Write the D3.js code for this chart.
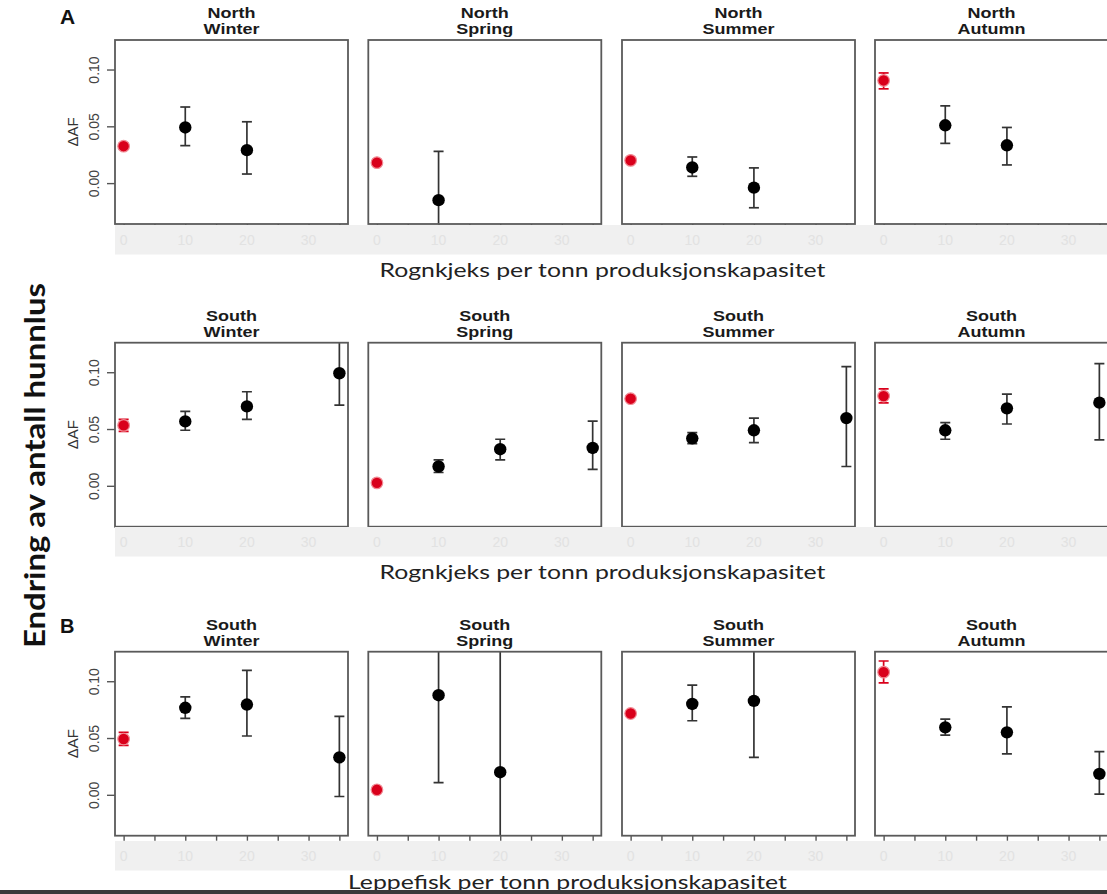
<!DOCTYPE html>
<html>
<head>
<meta charset="utf-8">
<script src="https://cdn.jsdelivr.net/npm/d3@7"></script>
<style>
  html, body { margin: 0; padding: 0; background: #fff; }
  svg { display: block; }
</style>
</head>
<body>
<svg id="chart" width="1107" height="894"></svg>
<script>
// Stocking density (fish per tonne capacity) at which each estimate was made
const doses = [0, 10, 20, 35];
const seasons = ["Winter", "Spring", "Summer", "Autumn"];
const xTicks = [0, 10, 20, 30];
const xMinorTicks = [0, 5, 10, 15, 20, 25, 30, 35];
const yTicks = [0.00, 0.05, 0.10];

// Row 1 – North, lumpfish (Rognkjeks). One array per season, one value per dose.
const northRognMean = [
  [0.0325, 0.049, 0.029, null],
  [0.018, -0.015, null, null],
  [0.020, 0.0138, -0.004, null],
  [0.0904, 0.0509, 0.0333, null]
];
const northRognLow = [
  [0.030, 0.033, 0.008, null],
  [0.016, -0.060, null, null],
  [0.018, 0.006, -0.0217, null],
  [0.083, 0.035, 0.016, null]
];
const northRognHigh = [
  [0.035, 0.067, 0.054, null],
  [0.020, 0.028, null, null],
  [0.022, 0.023, 0.0134, null],
  [0.097, 0.068, 0.049, null]
];

// Row 2 – South, lumpfish (Rognkjeks)
const southRognMean = [
  [0.0532, 0.0567, 0.0699, 0.0991],
  [0.0026, 0.017, 0.0322, 0.0333],
  [0.0767, 0.0418, 0.0489, 0.0596],
  [0.079, 0.0489, 0.0682, 0.0732]
];
const southRognLow = [
  [0.048, 0.0489, 0.0585, 0.071],
  [0.0005, 0.0117, 0.0228, 0.0144],
  [0.0747, 0.0372, 0.038, 0.017],
  [0.073, 0.041, 0.0544, 0.0404]
];
const southRognHigh = [
  [0.0585, 0.0655, 0.0828, 0.128],
  [0.0047, 0.0228, 0.041, 0.057],
  [0.0787, 0.0468, 0.0596, 0.105],
  [0.0854, 0.0556, 0.0807, 0.1076]
];

// Row 3 – South, wrasse (Leppefisk)
const southLeppMean = [
  [0.0491, 0.0766, 0.0795, 0.033],
  [0.0044, 0.0877, 0.0199, null],
  [0.0716, 0.080, 0.0827, null],
  [0.108, 0.0594, 0.055, 0.0184]
];
const southLeppLow = [
  [0.0436, 0.0673, 0.0518, -0.0015],
  [0.0024, 0.0108, -0.13, null],
  [0.0696, 0.0652, 0.033, null],
  [0.0985, 0.0526, 0.036, 0.0006]
];
const southLeppHigh = [
  [0.055, 0.0863, 0.1096, 0.069],
  [0.0064, 0.165, 0.17, null],
  [0.0736, 0.0965, 0.132, null],
  [0.1178, 0.0667, 0.0775, 0.038]
];

const rows = [
  { region: "North", tag: "A", xTitle: "Rognkjeks per tonn produksjonskapasitet", mean: northRognMean, low: northRognLow, high: northRognHigh },
  { region: "South", tag: null, xTitle: "Rognkjeks per tonn produksjonskapasitet", mean: southRognMean, low: southRognLow, high: southRognHigh },
  { region: "South", tag: "B", xTitle: "Leppefisk per tonn produksjonskapasitet", mean: southLeppMean, low: southLeppLow, high: southLeppHigh }
];

// ---- layout ----
const panelW = 233, panelH = 184;
const panelX = [115, 368.3, 622, 875];
const rowTop = [40, 342.7, 651.7];
const bandTop = [225, 527, 841];
const bandH = 29.5;
const titleBase = [277, 579, 889];

const svg = d3.select("#chart");
const x = d3.scaleLinear().domain([-1.4, 36.4]).range([0, panelW]);
const y = d3.scaleLinear().domain([-0.036, 0.126]).range([panelH, 0]);

const RED = "#d9001b";
const BAR = "#333";
const sansBold = "'Liberation Sans', Arial, sans-serif";

rows.forEach((row, ri) => {
  const top = rowTop[ri];

  seasons.forEach((season, si) => {
    const g = svg.append("g").attr("transform", `translate(${panelX[si]},${top})`);
    const clipId = `clip-${ri}-${si}`;
    g.append("clipPath").attr("id", clipId)
      .append("rect").attr("x", 0).attr("y", 0).attr("width", panelW).attr("height", panelH);

    // facet title (two lines)
    const tg = g.append("g").attr("transform", `translate(${panelW / 2},0) scale(1.2,1)`);
    tg.append("text").attr("x", 0).attr("y", -22).attr("text-anchor", "middle")
      .attr("font-family", sansBold).attr("font-weight", "bold").attr("font-size", 15)
      .attr("fill", "#1a1a1a").text(row.region);
    tg.append("text").attr("x", 0).attr("y", -6).attr("text-anchor", "middle")
      .attr("font-family", sansBold).attr("font-weight", "bold").attr("font-size", 15)
      .attr("fill", "#1a1a1a").text(season);

    // x ticks every 5 units below the frame
    const xAxis = d3.axisBottom(x).tickValues(xMinorTicks).tickSize(5).tickFormat("");
    const xa = g.append("g").attr("transform", `translate(0,${panelH})`).call(xAxis);
    xa.select(".domain").remove();
    xa.selectAll("line").attr("stroke", "#555").attr("stroke-width", 1.4);

    // y axis on the first panel of the row, labels parallel to the axis
    if (si === 0) {
      const yAxis = d3.axisLeft(y).tickValues(yTicks).tickSize(8).tickFormat(d3.format(".2f"));
      const ya = g.append("g").call(yAxis);
      ya.select(".domain").remove();
      ya.selectAll("line").attr("stroke", "#555").attr("stroke-width", 1.4);
      ya.selectAll("text")
        .attr("font-family", sansBold).attr("font-size", 14).attr("fill", "#444")
        .attr("text-anchor", "middle").attr("dy", 0)
        .attr("transform", "rotate(-90)")
        .attr("x", 0).attr("y", -16);
      g.append("text")
        .attr("transform", `translate(-37,${panelH / 2}) rotate(-90)`)
        .attr("text-anchor", "middle").attr("font-family", sansBold).attr("font-size", 15)
        .attr("fill", "#333").text("ΔAF");
    }

    // error bars and points
    const pts = doses.map((d, k) => ({
      dose: d, m: row.mean[si][k], lo: row.low[si][k], hi: row.high[si][k], ref: k === 0
    })).filter(p => p.m !== null);

    const eb = g.append("g").attr("clip-path", `url(#${clipId})`);
    pts.forEach(p => {
      const cx = x(p.dose);
      const col = p.ref ? RED : BAR;
      eb.append("line").attr("x1", cx).attr("x2", cx).attr("y1", y(p.lo)).attr("y2", y(p.hi))
        .attr("stroke", col).attr("stroke-width", 1.7);
      [p.lo, p.hi].forEach(v => {
        eb.append("line").attr("x1", cx - 5).attr("x2", cx + 5).attr("y1", y(v)).attr("y2", y(v))
          .attr("stroke", col).attr("stroke-width", 1.7);
      });
    });
    pts.forEach(p => {
      g.append("circle").attr("cx", x(p.dose)).attr("cy", y(p.m))
        .attr("r", p.ref ? 5.8 : 6.2)
        .attr("fill", p.ref ? RED : "#000")
        .attr("stroke", p.ref ? "#f08a94" : "none").attr("stroke-width", p.ref ? 1.2 : 0);
    });

    // panel frame
    g.append("rect").attr("x", 0).attr("y", 0).attr("width", panelW).attr("height", panelH)
      .attr("fill", "none").attr("stroke", "#5a5a5a").attr("stroke-width", 1.8);
  });

  // pale band carrying the x tick labels
  svg.append("rect").attr("x", 115).attr("y", bandTop[ri]).attr("width", 1107 - 115).attr("height", bandH)
    .attr("fill", "#f0f0f0");
  seasons.forEach((s, si) => {
    svg.append("g").selectAll("text").data(xTicks).join("text")
      .attr("x", d => panelX[si] + x(d))
      .attr("y", bandTop[ri] + 20)
      .attr("text-anchor", "middle").attr("font-family", sansBold).attr("font-size", 14)
      .attr("fill", "#e2e2e2").text(d => d);
  });

  // x-axis title for the row
  svg.append("text")
    .attr("x", row.xTitle.startsWith("Lepp") ? 567.5 : 602.5)
    .attr("y", titleBase[ri])
    .attr("text-anchor", "middle")
    .attr("font-family", "Lato, 'Open Sans', sans-serif").attr("font-size", 19)
    .attr("textLength", row.xTitle.startsWith("Lepp") ? 439 : 446)
    .attr("lengthAdjust", "spacingAndGlyphs")
    .attr("fill", "#222").text(row.xTitle);

  if (row.tag) {
    svg.append("text").attr("x", 60).attr("y", rowTop[ri] - (ri === 0 ? 16 : 19))
      .attr("font-family", sansBold).attr("font-weight", "bold").attr("font-size", ri === 0 ? 21 : 20)
      .attr("fill", "#111").text(row.tag);
  }
});

// shared y-axis title
svg.append("text")
  .attr("transform", "translate(45,465.5) rotate(-90)")
  .attr("text-anchor", "middle")
  .attr("font-family", "Lato, 'Open Sans', sans-serif").attr("font-weight", "bold").attr("font-size", 28)
  .attr("textLength", 365).attr("lengthAdjust", "spacingAndGlyphs")
  .attr("fill", "#111").text("Endring av antall hunnlus");

// dark strip along the bottom edge
svg.append("rect").attr("x", 0).attr("y", 890).attr("width", 1107).attr("height", 4).attr("fill", "#3a3a3a");
</script>
</body>
</html>
